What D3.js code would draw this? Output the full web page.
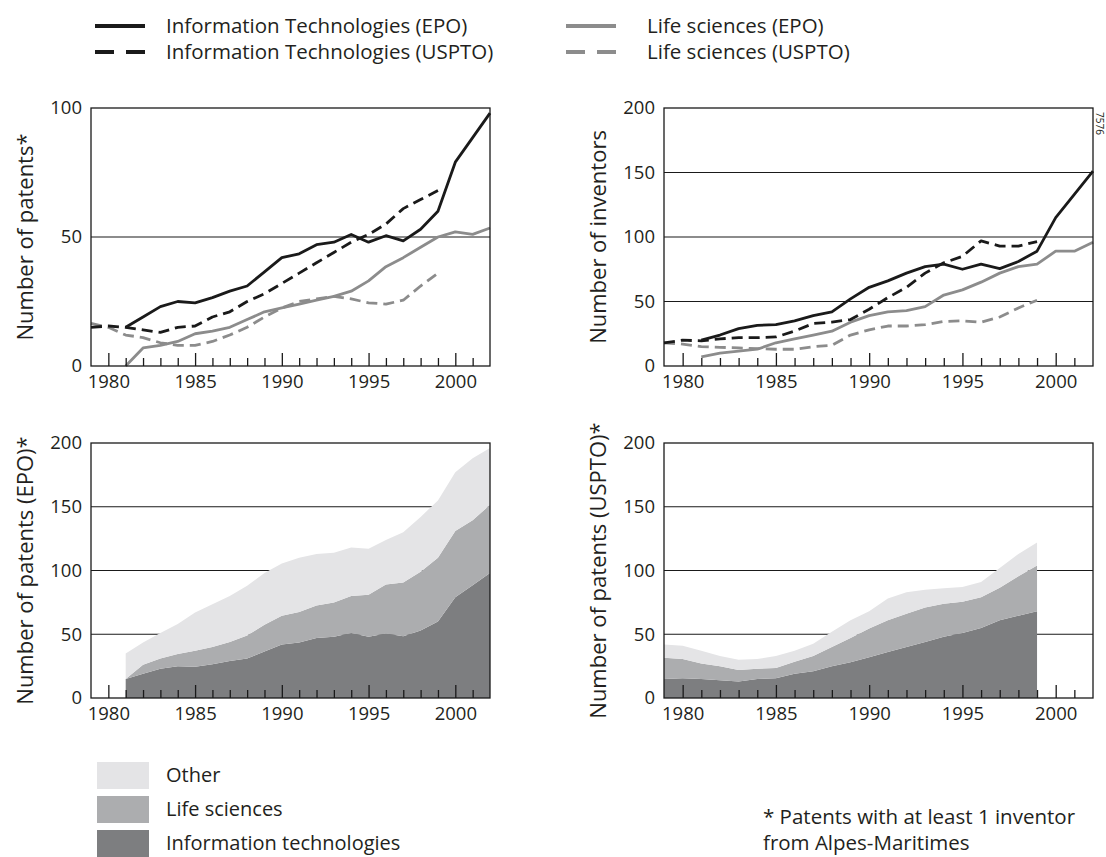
<!DOCTYPE html>
<html><head><meta charset="utf-8">
<script src="https://cdn.jsdelivr.net/npm/d3@7"></script>
<style>
body{margin:0;background:#fff}
svg{display:block}
text{font-family:'Open Sans',sans-serif;fill:#231f20}
</style>
</head><body>
<svg id="c" width="1106" height="857"></svg>
<script>
// ---------- DATA ----------
const yearsEPO   = [1981,1982,1983,1984,1985,1986,1987,1988,1989,1990,1991,1992,1993,1994,1995,1996,1997,1998,1999,2000,2001,2002];
const yearsUSPTO = [1979,1980,1981,1982,1983,1984,1985,1986,1987,1988,1989,1990,1991,1992,1993,1994,1995,1996,1997,1998,1999];

// Number of patents (top left)
const itEpoPatents = [15,19,23,25,24.5,26.5,29,31,36.5,42,43.5,47,48,51,48,50.5,48.5,53,60,79,88.5,98];
const lsEpoPatents = [0,7,8,9.5,12.5,13.5,15,18,21,22.5,24,25.5,27,29,33,38.5,42,46,50,52,51,53.5];
const itUsPatents  = [15,15.5,15,14,13,15,15.5,19,21,25,28,32,36,40,44,48,51,55,61,64.5,68];
const lsUsPatents  = [16.5,15,12,11,9,8,8,9.5,12,15,19,22.5,25,26,27,26,24.5,24,25.5,31,36];

// Number of inventors (top right)
const itEpoInventors = [20,24,29,31.5,32,35,39,42,52,61,66,72,77,79,75,79,75.5,81,89,115,133,151];
const lsEpoInventors = [7,10,11.5,13,18,21,24,27,34,39,42,43,46,55,59,65,72,77,79,89,89,96];
const itUsInventors  = [18,20,19.5,21,22,22,22.5,27,33,34,36,44,53,61,72,80,85,97,93,93,96.5];
const lsUsInventors  = [18,17,15,14.5,14,13.5,13,13,15,16,24,28,31,31,32,34.5,35,34,38,45,51];

// "Other" patents (stacked charts)
const otherEpoPatents = [20,17.5,20,23.5,30,33.5,36,39,40.5,41,42.5,40.5,39,38,36,35,39.5,43,45,46,48.5,44.5];
const otherUsPatents  = [10.5,10.5,10,8,8,7.5,9.5,8.5,9.5,12,14,13.5,17,17,14,12,11.5,12,15.5,17.5,18];

const majorYears = [1980,1985,1990,1995,2000];
const minorYears = [1981,1982,1983,1984,1986,1987,1988,1989,1991,1992,1993,1994,1996,1997,1998,1999,2001];
const ticksTop1 = [0,50,100];
const ticksOther = [0,50,100,150,200];

const lineLegend = [
  {label:"Information Technologies (EPO)", color:"#1a1a1a", dash:null},
  {label:"Information Technologies (USPTO)", color:"#1a1a1a", dash:"11,6"},
  {label:"Life sciences (EPO)", color:"#8c8c8c", dash:null},
  {label:"Life sciences (USPTO)", color:"#8c8c8c", dash:"11,6"}
];
const areaLegend = [
  {label:"Other", color:"#e4e4e6"},
  {label:"Life sciences", color:"#acadaf"},
  {label:"Information technologies", color:"#7d7e80"}
];
const titles = ["Number of patents*","Number of inventors","Number of patents (EPO)*","Number of patents (USPTO)*"];

// ---------- DRAW ----------
const svg = d3.select("#c");
const BLACK = "#1a1a1a", GRAY = "#8c8c8c";

function makePanel(box, yMax, yTicks, title, content){
  const g = svg.append("g");
  const x = d3.scaleLinear().domain([1979,2002]).range([box.l, box.r]);
  const y = d3.scaleLinear().domain([0,yMax]).range([box.b, box.t]);
  g.append("g").selectAll("line").data(yTicks.filter(v=>v>0 && v<yMax)).join("line")
    .attr("x1",box.l).attr("x2",box.r).attr("y1",d=>y(d)).attr("y2",d=>y(d))
    .attr("stroke",BLACK).attr("stroke-width",1.1);
  content(g, x, y);
  g.append("rect").attr("x",box.l).attr("y",box.t).attr("width",box.r-box.l).attr("height",box.b-box.t)
    .attr("fill","none").attr("stroke",BLACK).attr("stroke-width",1.3);
  const ax1 = g.append("g").attr("transform",`translate(0,${box.b})`)
    .call(d3.axisBottom(x).tickValues(majorYears).tickFormat(d3.format("d")).tickSizeInner(-13).tickSizeOuter(0).tickPadding(9));
  const ax2 = g.append("g").attr("transform",`translate(0,${box.b})`)
    .call(d3.axisBottom(x).tickValues(minorYears).tickFormat("").tickSizeInner(-8).tickSizeOuter(0));
  [ax1,ax2].forEach(a=>{a.select(".domain").remove(); a.selectAll("line").attr("stroke",BLACK).attr("stroke-width",1.3);});
  ax1.selectAll("text").attr("font-size",18.5).attr("fill","#231f20").style("font-family","'Open Sans',sans-serif");
  const ay = g.append("g").attr("transform",`translate(${box.l},0)`)
    .call(d3.axisLeft(y).tickValues(yTicks).tickSize(0).tickPadding(9));
  ay.select(".domain").remove();
  ay.selectAll("text").attr("font-size",18.5).attr("fill","#231f20").style("font-family","'Open Sans',sans-serif");
  g.append("text").attr("transform",`translate(${box.l-66},${(box.t+box.b)/2}) rotate(-90)`)
    .attr("text-anchor","middle").attr("dy","0.35em").attr("font-size",22).text(title);
  return {g,x,y};
}

function drawLines(g, x, y, series){
  series.forEach(s=>{
    const pts = s.years.map((yr,i)=>[yr, s.values[i]]);
    g.append("path").datum(pts)
      .attr("d", d3.line().x(d=>x(d[0])).y(d=>y(d[1])))
      .attr("fill","none").attr("stroke",s.color).attr("stroke-width",2.8)
      .attr("stroke-linejoin","round")
      .attr("stroke-dasharray", s.dash);
  });
}

function drawStack(g, x, y, years, it, ls, other){
  const rows = years.map((yr,i)=>({year:yr, it:it[i], ls:ls[i], other:other[i]}));
  const stack = d3.stack().keys(["it","ls","other"])(rows);
  const colors = {it:"#7d7e80", ls:"#acadaf", other:"#e4e4e6"};
  g.append("g").selectAll("path").data(stack).join("path")
    .attr("fill", d=>colors[d.key])
    .attr("d", d3.area().x(d=>x(d.data.year)).y0(d=>y(d[0])).y1(d=>y(d[1])));
}

const L = {l:91, r:490}, R = {l:664, r:1093};
const TOP = {t:108, b:366}, BOT = {t:443, b:698};

makePanel({...L,...TOP}, 100, ticksTop1, titles[0], (g,x,y)=>{
  drawLines(g,x,y,[
    {years:yearsUSPTO, values:lsUsPatents, color:GRAY, dash:lineLegend[3].dash},
    {years:yearsEPO, values:lsEpoPatents, color:GRAY, dash:null},
    {years:yearsUSPTO, values:itUsPatents, color:BLACK, dash:lineLegend[1].dash},
    {years:yearsEPO, values:itEpoPatents, color:BLACK, dash:null}
  ]);
});
makePanel({...R,...TOP}, 200, ticksOther, titles[1], (g,x,y)=>{
  drawLines(g,x,y,[
    {years:yearsUSPTO, values:lsUsInventors, color:GRAY, dash:lineLegend[3].dash},
    {years:yearsEPO, values:lsEpoInventors, color:GRAY, dash:null},
    {years:yearsUSPTO, values:itUsInventors, color:BLACK, dash:lineLegend[1].dash},
    {years:yearsEPO, values:itEpoInventors, color:BLACK, dash:null}
  ]);
});
makePanel({...L,...BOT}, 200, ticksOther, titles[2], (g,x,y)=>{
  drawStack(g,x,y,yearsEPO,itEpoPatents,lsEpoPatents,otherEpoPatents);
});
makePanel({...R,...BOT}, 200, ticksOther, titles[3], (g,x,y)=>{
  drawStack(g,x,y,yearsUSPTO,itUsPatents,lsUsPatents,otherUsPatents);
});

svg.append("text").attr("transform","translate(1099,112) rotate(90)")
  .attr("font-size",10).attr("dy","0.35em").text("7576");

// top legend
const legPos = [{x:95,y:26,t:166},{x:95,y:52,t:166},{x:566,y:26,t:647},{x:566,y:52,t:647}];
lineLegend.forEach((d,i)=>{
  const p = legPos[i];
  svg.append("line").attr("x1",p.x).attr("x2",p.x+50).attr("y1",p.y).attr("y2",p.y)
    .attr("stroke",d.color).attr("stroke-width",4).attr("stroke-dasharray", d.dash ? "19,12" : null);
  svg.append("text").attr("x",p.t).attr("y",p.y).attr("dy","0.35em").attr("font-size",20.5).text(d.label);
});

// bottom legend
areaLegend.forEach((d,i)=>{
  const y0 = 762 + i*34;
  svg.append("rect").attr("x",97).attr("y",y0).attr("width",52).attr("height",27).attr("fill",d.color);
  svg.append("text").attr("x",166).attr("y",y0+13).attr("dy","0.35em").attr("font-size",20).text(d.label);
});

// footnote
const foot = svg.append("text").attr("x",763).attr("font-size",20.5);
foot.append("tspan").attr("x",763).attr("y",824).text("* Patents with at least 1 inventor");
foot.append("tspan").attr("x",763).attr("y",850).text("from Alpes-Maritimes");
</script>
</body></html>
